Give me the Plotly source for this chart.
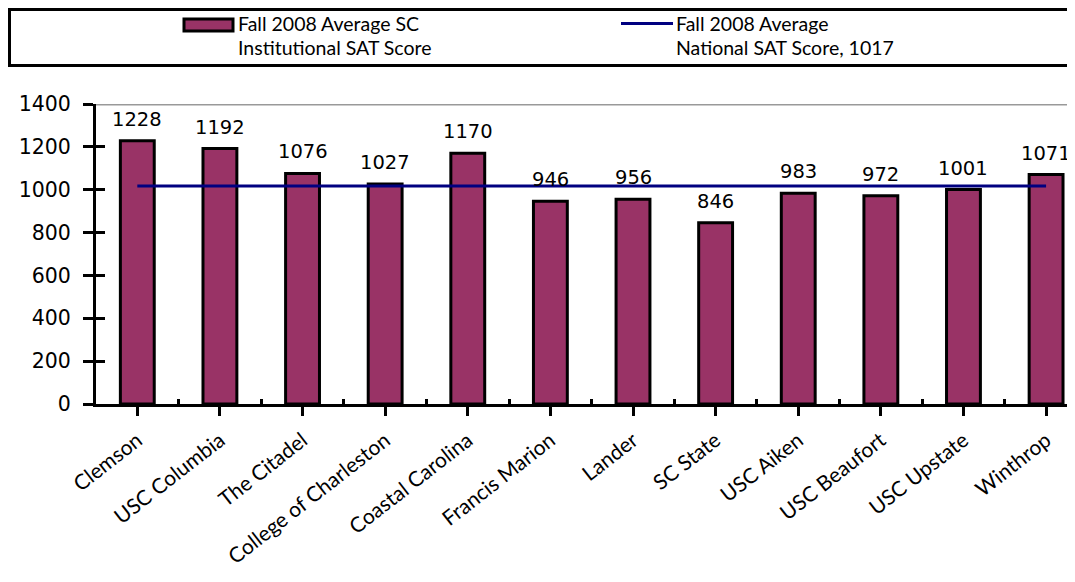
import plotly.graph_objects as go

# ---- data ----
institutions = ["Clemson", "USC Columbia", "The Citadel", "College of Charleston",
                "Coastal Carolina", "Francis Marion", "Lander", "SC State",
                "USC Aiken", "USC Beaufort", "USC Upstate", "Winthrop"]
sc_sat = [1228, 1192, 1076, 1027, 1170, 946, 956, 846, 983, 972, 1001, 1071]
national_sat = 1017
national_line = [national_sat] * len(institutions)
series_names = ["Fall 2008 Average SC<br>Institutional SAT Score",
                "Fall 2008 Average<br>National SAT Score, 1017"]
y_ticks = [0, 200, 400, 600, 800, 1000, 1200, 1400]

BAR_COLOR = "#993366"
LINE_COLOR = "#000080"
NUM_FONT = "DejaVu Sans"
TXT_FONT = "Lato"

# the page body has an 8px margin; the figure is sized to fill the rest
OFF = 8
W, H = 1075 - OFF, 582 - OFF
ML, MR, MT, MB = 96 - OFF, 0, 104 - OFF, 582 - 404
PW, PH = W - ML - MR, H - MT - MB

def px_x(px):  # page pixel -> paper
    return (px - OFF - ML) / PW

def px_y(py):
    return (H - MB - (py - OFF)) / PH

n = len(institutions)
cats = list(range(n))
x_range = [-0.5, 11.35]

fig = go.Figure()
fig.add_trace(go.Bar(
    x=cats, y=sc_sat, width=0.41,
    marker=dict(color=BAR_COLOR, line=dict(color="black", width=3)),
    name=series_names[0], showlegend=False))
fig.add_trace(go.Scatter(
    x=cats, y=national_line, mode="lines",
    line=dict(color=LINE_COLOR, width=3), name=series_names[1], showlegend=False))
# invisible trace bound to overlay axes (for crossing tick marks)
fig.add_trace(go.Scatter(x=[0], y=[0], xaxis="x2", yaxis="y2", mode="markers",
                         marker=dict(opacity=0), showlegend=False, hoverinfo="skip"))

# value labels
for i, v in enumerate(sc_sat):
    fig.add_annotation(x=i, y=v, text=str(v), showarrow=False, yanchor="bottom",
                       yshift=8, font=dict(family=NUM_FONT, size=19.5, color="black"))

# top border line at 1400
fig.add_shape(type="line", xref="paper", yref="y", x0=0, x1=1, y0=1400, y1=1400,
              line=dict(color="#999999", width=3), layer="below")

# legend box
fig.add_shape(type="rect", xref="paper", yref="paper",
              x0=px_x(9.5), x1=px_x(1090), y0=px_y(65.5), y1=px_y(9.5),
              line=dict(color="black", width=3))
# bar swatch
fig.add_shape(type="rect", xref="paper", yref="paper",
              x0=px_x(184), x1=px_x(233), y0=px_y(31), y1=px_y(19),
              fillcolor=BAR_COLOR, line=dict(color="black", width=3))
# line swatch
fig.add_shape(type="line", xref="paper", yref="paper",
              x0=px_x(621), x1=px_x(673), y0=px_y(23.5), y1=px_y(23.5),
              line=dict(color=LINE_COLOR, width=3))
for name, xpx in zip(series_names, [236, 674]):
    for k, line in enumerate(name.split("<br>")):
        fig.add_annotation(xref="paper", yref="paper", x=px_x(xpx), y=px_y(23 + 24 * k),
                           xanchor="left", yanchor="middle", text=line, showarrow=False,
                           font=dict(family=TXT_FONT, size=19.5, color="black"))

boundaries = [i - 0.5 for i in range(n)]
fig.update_layout(
    width=W, height=H, margin=dict(l=ML, r=MR, t=MT, b=MB, autoexpand=False),
    paper_bgcolor="white", plot_bgcolor="white", showlegend=False,
    xaxis=dict(range=x_range, tickmode="array", automargin=False,
               tickvals=cats, ticktext=institutions,
               tickangle=-38, tickson="boundaries", ticks="outside", ticklen=9,
               tickwidth=3, tickcolor="black", showline=True, linecolor="black",
               linewidth=3, showgrid=False, zeroline=False, ticklabelstandoff=4,
               tickfont=dict(family=TXT_FONT, size=21, color="black")),
    yaxis=dict(range=[0, 1400], tickvals=y_ticks, ticks="outside", ticklen=10,
               tickwidth=3, tickcolor="black", showline=True, linecolor="black",
               linewidth=3, showgrid=False, zeroline=False, automargin=False,
               ticklabelstandoff=8,
               tickfont=dict(family=NUM_FONT, size=20.5, color="black")),
    xaxis2=dict(range=x_range, overlaying="x", side="bottom", tickmode="array",
                tickvals=boundaries, ticks="inside", ticklen=5, tickwidth=3,
                tickcolor="black", showticklabels=False, showline=False,
                showgrid=False, zeroline=False, automargin=False),
    yaxis2=dict(range=[0, 1400], tickvals=y_ticks, overlaying="y", side="left",
                ticks="inside", ticklen=9, tickwidth=3, tickcolor="black",
                showticklabels=False, showline=False, showgrid=False,
                zeroline=False, automargin=False),
)
fig.write_html("out.html")
